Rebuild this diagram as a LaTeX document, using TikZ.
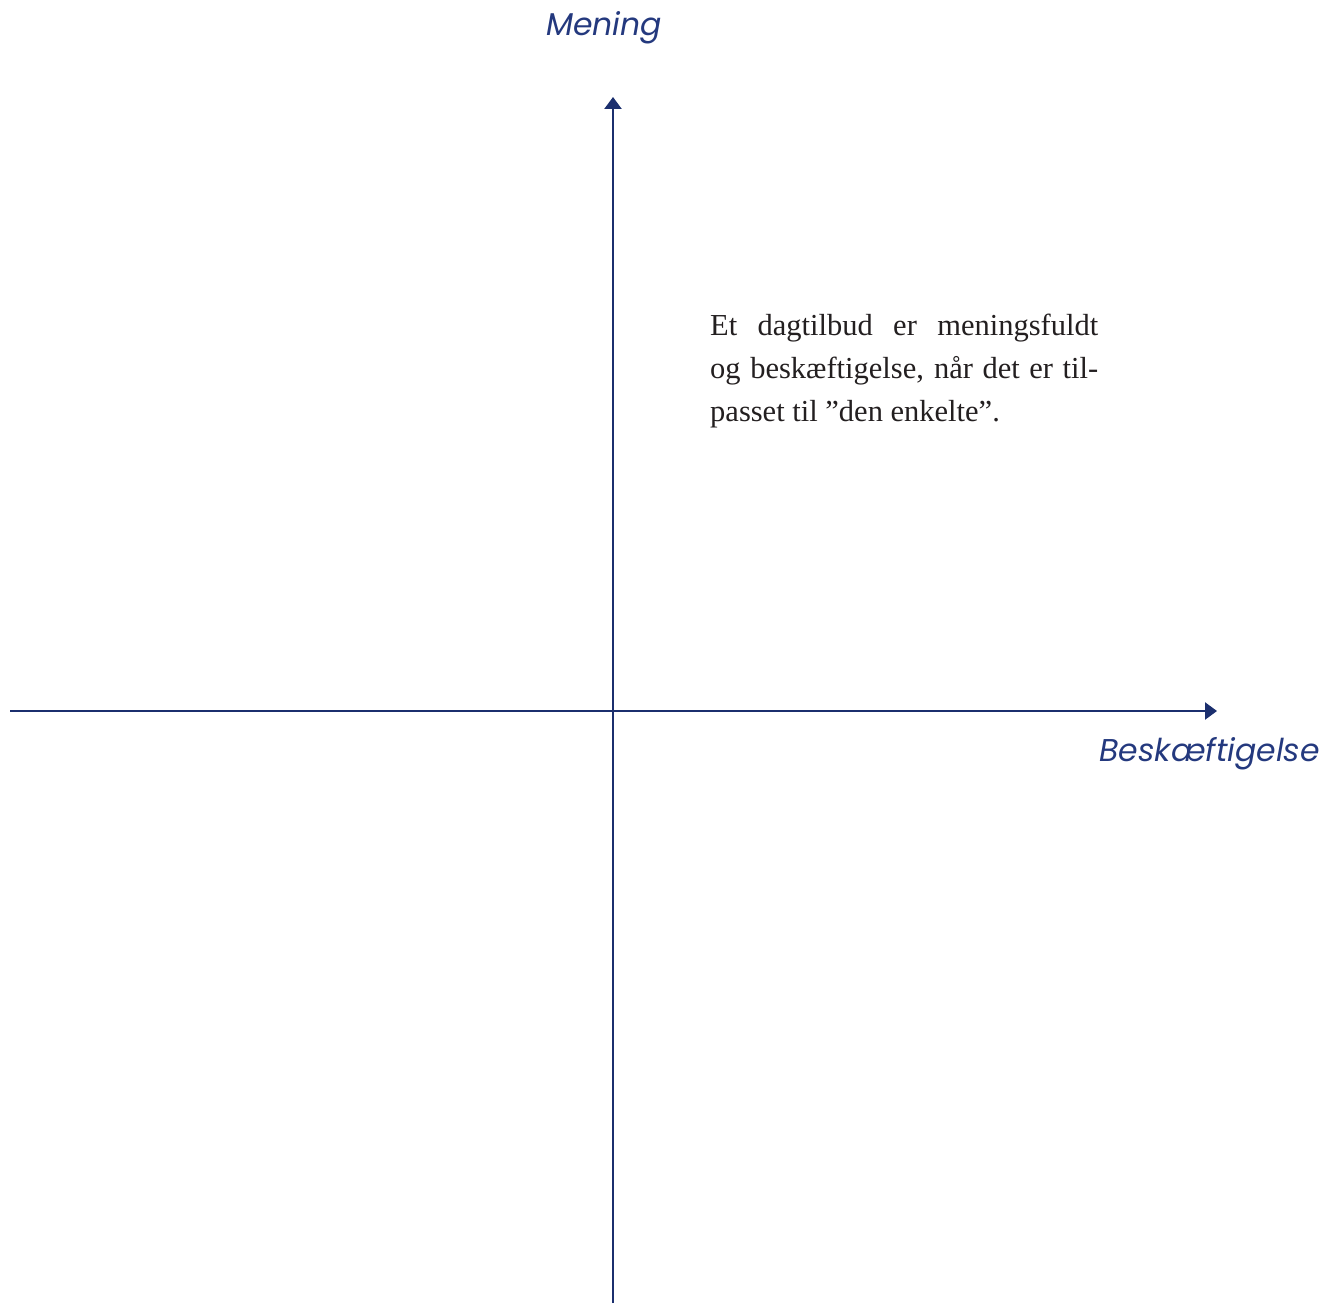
\documentclass[tikz,border=0pt]{standalone}
\usepackage{fontspec}
\setmainfont{Liberation Serif}
\newfontfamily\axisfont{Poppins}
\usetikzlibrary{arrows.meta}
\definecolor{navy}{HTML}{1B2F6E}
\definecolor{labelblue}{HTML}{24397E}
\definecolor{textgray}{HTML}{231F20}
\tikzset{
  axis/.style={draw=navy, line width=2.4pt, -{Triangle[length=12pt,width=17pt]}},
  axislabel/.style={text=labelblue, font=\axisfont\itshape\fontsize{31.5}{36}\selectfont, inner sep=0pt},
  bodytext/.style={text=textgray, font=\fontsize{30.5}{43}\selectfont, inner sep=0pt, anchor=base west, align=left}
}
\begin{document}
\begin{tikzpicture}[x=1pt,y=-1pt]
\useasboundingbox (0,0) rectangle (1340,1303);
\coordinate (vbot) at (613,1303);
\coordinate (vtop) at (613,97);
\coordinate (hleft) at (10,711);
\coordinate (hright) at (1217,711);
\draw[axis] (vbot) -- (vtop);
\draw[axis] (hleft) -- (hright);
\node[axislabel, anchor=base] (mening) at (604,36) {Mening};
\node[axislabel, anchor=base east] (besk) at (1320,761) {Beskæftigelse};
\node[bodytext] (para) at (710,421) {\makebox[388pt][s]{Et dagtilbud er meningsfuldt}\\
\makebox[388pt][s]{og beskæftigelse, når det er til-}\\
passet til ”den enkelte”.};
\end{tikzpicture}
\end{document}
